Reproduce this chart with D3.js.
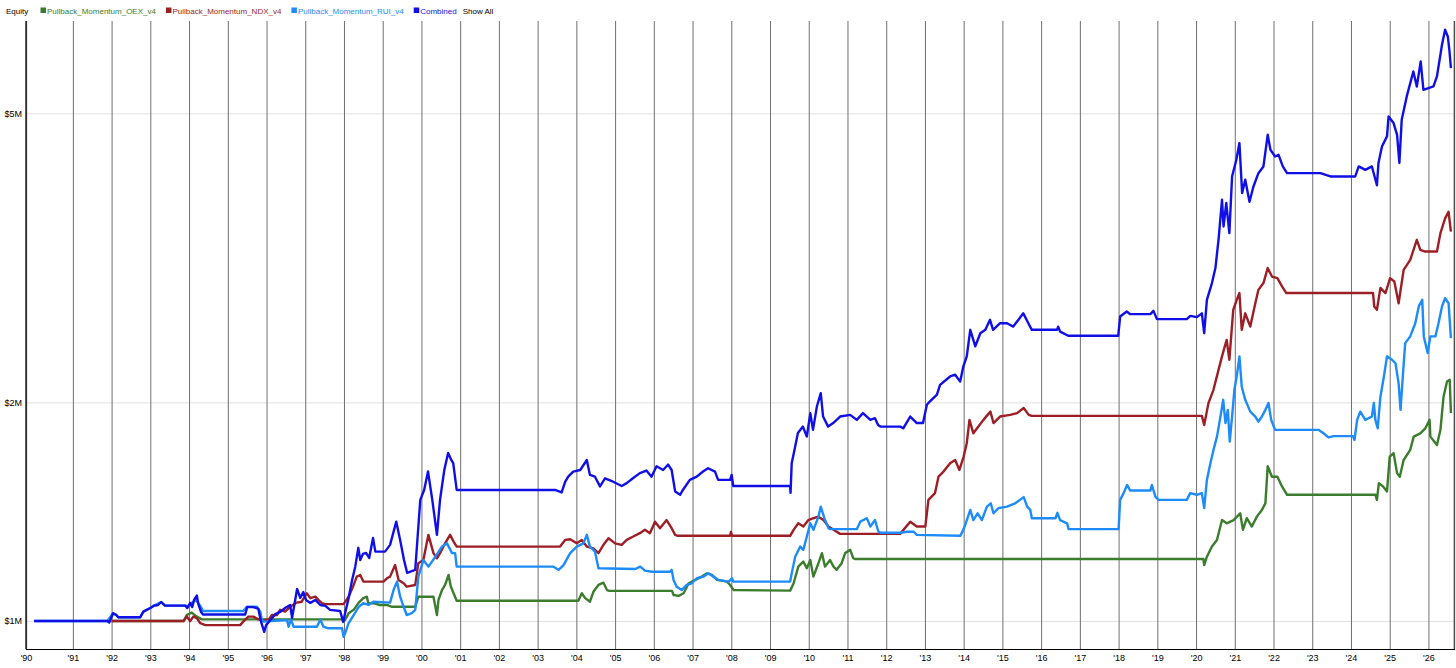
<!DOCTYPE html>
<html>
<head>
<meta charset="utf-8">
<script src="https://cdn.jsdelivr.net/npm/d3@7"></script>
<style>
  body { margin: 0; background: #fff; }
  svg { display: block; font-family: "Liberation Sans", Arial, sans-serif; }
</style>
</head>
<body>
<svg id="chart" width="1456" height="668"></svg>
<script>
/* data: [year, equity in $M] */
var oex = [
  [1992.0,1.0],[1993.86,1.0],[1993.94,1.019],[1994.07,1.027],[1994.2,1.014],[1994.33,1.005],
  [1997.98,1.005],[1998.03,1.003],[1998.12,1.025],[1998.25,1.036],[1998.38,1.06],[1998.5,1.075],
  [1998.59,1.08],[1998.63,1.058],[1998.76,1.058],[1998.93,1.052],[1999.11,1.052],[1999.24,1.046],
  [1999.84,1.046],[1999.92,1.08],[2000.31,1.08],[2000.36,1.046],[2000.4,1.019],[2000.44,1.069],
  [2000.53,1.103],[2000.61,1.121],[2000.7,1.157],[2000.76,1.115],[2000.83,1.092],[2000.91,1.066],
  [2004.05,1.066],[2004.14,1.092],[2004.23,1.075],[2004.35,1.063],[2004.44,1.097],[2004.57,1.121],
  [2004.7,1.129],[2004.79,1.103],[2004.85,1.1],[2006.47,1.1],[2006.51,1.086],[2006.64,1.083],
  [2006.77,1.092],[2006.9,1.127],[2007.07,1.139],[2007.24,1.151],[2007.37,1.163],[2007.5,1.157],
  [2007.63,1.139],[2007.89,1.133],[2007.97,1.121],[2008.06,1.103],[2009.52,1.101],[2009.61,1.127],
  [2009.73,1.188],[2009.86,1.207],[2009.95,1.182],[2010.04,1.213],[2010.12,1.151],[2010.25,1.201],
  [2010.34,1.24],[2010.42,1.188],[2010.55,1.213],[2010.64,1.188],[2010.72,1.176],[2010.85,1.201],
  [2010.94,1.24],[2011.07,1.253],[2011.15,1.22],[2011.2,1.217],[2020.19,1.217],[2020.21,1.194],
  [2020.28,1.226],[2020.41,1.266],[2020.54,1.293],[2020.67,1.377],[2020.79,1.363],[2020.97,1.377],
  [2021.14,1.407],[2021.21,1.335],[2021.31,1.385],[2021.44,1.349],[2021.57,1.392],[2021.7,1.422],
  [2021.79,1.452],[2021.85,1.633],[2021.96,1.58],[2022.1,1.58],[2022.22,1.532],[2022.35,1.492],
  [2024.63,1.492],[2024.67,1.468],[2024.72,1.548],[2024.83,1.532],[2024.93,1.508],[2025.0,1.684],
  [2025.1,1.702],[2025.19,1.598],[2025.26,1.58],[2025.36,1.666],[2025.53,1.72],[2025.62,1.794],
  [2025.79,1.813],[2025.92,1.842],[2026.03,1.892],[2026.05,1.794],[2026.22,1.747],[2026.31,1.833],
  [2026.39,2.036],[2026.48,2.136],[2026.55,2.148],[2026.58,1.933]
];

var ndx = [
  [1992.0,1.0],[1993.86,1.0],[1993.94,1.014],[1994.03,1.0],[1994.11,1.014],[1994.2,1.009],
  [1994.29,0.993],[1994.42,0.987],[1995.32,0.987],[1995.4,0.998],[1995.53,1.014],[1995.66,1.014],
  [1995.79,1.005],[1995.88,1.003],[1996.05,1.003],[1996.14,1.019],[1996.27,1.019],[1996.35,1.036],
  [1996.48,1.03],[1996.61,1.046],[1996.78,1.06],[1996.91,1.063],[1997.04,1.092],[1997.13,1.075],
  [1997.26,1.08],[1997.34,1.069],[1997.43,1.058],[1997.51,1.055],[1997.99,1.055],[1998.12,1.08],
  [1998.25,1.121],[1998.33,1.151],[1998.42,1.157],[1998.5,1.133],[1999.02,1.133],[1999.11,1.145],
  [1999.19,1.151],[1999.32,1.194],[1999.41,1.139],[1999.54,1.127],[1999.62,1.115],[1999.84,1.121],
  [1999.92,1.201],[2000.05,1.213],[2000.18,1.314],[2000.31,1.24],[2000.4,1.22],[2000.48,1.24],
  [2000.61,1.279],[2000.74,1.314],[2000.83,1.286],[2000.91,1.266],[2003.58,1.266],[2003.71,1.293],
  [2003.84,1.296],[2004.01,1.279],[2004.14,1.293],[2004.27,1.266],[2004.44,1.259],[2004.57,1.24],
  [2004.7,1.273],[2004.83,1.3],[2005.0,1.279],[2005.17,1.273],[2005.3,1.293],[2005.47,1.307],
  [2005.64,1.321],[2005.77,1.335],[2005.9,1.321],[2006.03,1.37],[2006.16,1.342],[2006.33,1.377],
  [2006.46,1.342],[2006.55,1.314],[2006.62,1.31],[2007.97,1.31],[2007.99,1.326],[2008.02,1.31],
  [2009.52,1.31],[2009.61,1.335],[2009.73,1.363],[2009.86,1.349],[2009.99,1.377],[2010.12,1.385],
  [2010.25,1.392],[2010.38,1.377],[2010.51,1.349],[2010.64,1.335],[2010.81,1.318],[2012.36,1.318],
  [2012.62,1.37],[2012.79,1.349],[2013.01,1.349],[2013.09,1.468],[2013.26,1.5],[2013.35,1.58],
  [2013.48,1.606],[2013.65,1.649],[2013.78,1.666],[2013.89,1.614],[2014.0,1.684],[2014.08,1.757],
  [2014.15,1.892],[2014.25,1.813],[2014.38,1.852],[2014.51,1.892],[2014.69,1.942],[2014.77,1.873],
  [2014.94,1.912],[2015.2,1.922],[2015.38,1.933],[2015.55,1.964],[2015.68,1.922],[2015.76,1.916],
  [2020.15,1.916],[2020.21,1.861],[2020.32,1.995],[2020.45,2.081],[2020.58,2.217],[2020.67,2.314],
  [2020.79,2.438],[2020.86,2.289],[2020.92,2.517],[2020.96,2.682],[2021.05,2.768],[2021.12,2.828],
  [2021.18,2.517],[2021.27,2.652],[2021.4,2.543],[2021.53,2.738],[2021.61,2.857],[2021.74,2.919],
  [2021.85,3.061],[2021.96,2.98],[2022.1,2.965],[2022.22,2.888],[2022.33,2.828],[2024.57,2.828],
  [2024.6,2.711],[2024.67,2.682],[2024.76,2.875],[2024.89,2.828],[2025.01,2.965],[2025.12,2.934],
  [2025.23,2.738],[2025.36,3.044],[2025.53,3.142],[2025.7,3.348],[2025.79,3.243],[2025.92,3.226],
  [2026.22,3.226],[2026.31,3.42],[2026.43,3.583],[2026.52,3.659],[2026.58,3.437]
];

var rui = [
  [1990.0,1.0],[1991.89,1.0],[1992.04,1.025],[1992.12,1.019],[1992.17,1.012],[1992.74,1.012],
  [1992.82,1.03],[1993.0,1.042],[1993.08,1.049],[1993.28,1.062],[1993.38,1.05],[1993.9,1.05],
  [1993.98,1.046],[1994.03,1.055],[1994.18,1.069],[1994.29,1.049],[1994.36,1.032],[1995.4,1.032],
  [1995.49,1.046],[1995.75,1.046],[1995.84,1.03],[1995.88,1.003],[1995.92,0.998],[1996.53,1.003],
  [1996.57,0.982],[1996.63,1.005],[1996.7,0.982],[1997.3,0.982],[1997.39,1.005],[1997.47,0.982],
  [1997.6,0.977],[1997.95,0.977],[1997.99,0.951],[1998.03,0.962],[1998.12,0.993],[1998.25,1.019],
  [1998.38,1.046],[1998.5,1.058],[1998.63,1.052],[1998.76,1.063],[1999.19,1.06],[1999.28,1.103],
  [1999.37,1.133],[1999.45,1.08],[1999.54,1.046],[1999.62,1.019],[1999.75,1.025],[1999.84,1.036],
  [1999.92,1.151],[2000.05,1.213],[2000.18,1.188],[2000.36,1.226],[2000.53,1.266],[2000.66,1.279],
  [2000.79,1.24],[2000.87,1.24],[2000.91,1.188],[2003.41,1.188],[2003.54,1.176],[2003.67,1.194],
  [2003.84,1.24],[2004.01,1.266],[2004.18,1.279],[2004.27,1.314],[2004.35,1.266],[2004.48,1.246],
  [2004.57,1.182],[2005.52,1.179],[2005.65,1.188],[2005.77,1.173],[2005.95,1.169],[2006.42,1.169],
  [2006.46,1.176],[2006.51,1.139],[2006.59,1.115],[2006.72,1.103],[2006.85,1.121],[2006.98,1.127],
  [2007.11,1.145],[2007.28,1.151],[2007.41,1.163],[2007.54,1.151],[2007.67,1.139],[2007.93,1.133],
  [2008.02,1.145],[2008.05,1.133],[2009.52,1.133],[2009.56,1.163],[2009.65,1.226],[2009.78,1.266],
  [2009.86,1.253],[2009.95,1.307],[2010.04,1.363],[2010.12,1.335],[2010.25,1.392],[2010.31,1.437],
  [2010.42,1.377],[2010.51,1.342],[2010.55,1.338],[2011.24,1.338],[2011.33,1.37],[2011.5,1.385],
  [2011.59,1.349],[2011.71,1.377],[2011.8,1.327],[2011.85,1.323],[2012.36,1.323],[2012.54,1.327],
  [2012.71,1.327],[2012.79,1.314],[2013.91,1.31],[2013.95,1.321],[2014.04,1.356],[2014.17,1.422],
  [2014.25,1.377],[2014.36,1.407],[2014.47,1.377],[2014.6,1.437],[2014.7,1.452],[2014.77,1.407],
  [2014.9,1.43],[2015.12,1.437],[2015.33,1.452],[2015.55,1.481],[2015.64,1.437],[2015.72,1.422],
  [2015.76,1.385],[2016.37,1.385],[2016.42,1.409],[2016.49,1.377],[2016.67,1.363],[2016.71,1.338],
  [2018.0,1.338],[2018.04,1.468],[2018.13,1.5],[2018.22,1.539],[2018.3,1.512],[2018.82,1.512],
  [2018.86,1.539],[2018.95,1.483],[2019.03,1.468],[2019.76,1.468],[2019.85,1.5],[2020.02,1.492],
  [2020.15,1.5],[2020.21,1.43],[2020.28,1.564],[2020.37,1.649],[2020.45,1.72],[2020.54,1.794],
  [2020.63,1.912],[2020.7,2.016],[2020.76,1.873],[2020.82,1.953],[2020.87,1.766],[2020.93,1.912],
  [2020.99,2.081],[2021.05,2.171],[2021.12,2.314],[2021.18,2.101],[2021.27,2.016],[2021.4,1.942],
  [2021.53,1.912],[2021.61,1.881],[2021.7,1.912],[2021.79,1.953],[2021.87,1.996],[2021.94,1.892],
  [2022.04,1.833],[2023.16,1.833],[2023.29,1.813],[2023.42,1.79],[2023.55,1.797],[2024.05,1.797],
  [2024.09,1.775],[2024.16,1.892],[2024.24,1.942],[2024.37,1.892],[2024.54,1.912],[2024.59,1.996],
  [2024.63,1.892],[2024.69,1.842],[2024.76,2.036],[2024.85,2.171],[2024.93,2.314],[2025.06,2.289],
  [2025.15,2.264],[2025.23,2.124],[2025.28,1.953],[2025.35,2.217],[2025.4,2.413],[2025.53,2.465],
  [2025.66,2.57],[2025.75,2.711],[2025.84,2.768],[2025.88,2.465],[2025.98,2.338],[2026.05,2.465],
  [2026.18,2.465],[2026.26,2.57],[2026.35,2.711],[2026.43,2.782],[2026.52,2.738],[2026.58,2.452]
];

var combined = [
  [1990.0,1.0],[1991.89,1.0],[1991.94,0.995],[1992.04,1.025],[1992.12,1.019],[1992.17,1.012],
  [1992.74,1.012],[1992.82,1.03],[1993.0,1.042],[1993.08,1.049],[1993.2,1.052],[1993.28,1.062],
  [1993.38,1.05],[1993.9,1.05],[1993.95,1.042],[1994.03,1.059],[1994.08,1.045],[1994.13,1.069],
  [1994.2,1.084],[1994.24,1.055],[1994.31,1.029],[1994.36,1.021],[1995.45,1.021],[1995.5,1.045],
  [1995.66,1.045],[1995.79,1.039],[1995.86,0.997],[1995.94,0.966],[1995.99,0.987],[1996.1,1.003],
  [1996.23,1.022],[1996.35,1.029],[1996.48,1.042],[1996.61,1.052],[1996.66,1.01],[1996.74,1.069],
  [1996.79,1.107],[1996.87,1.076],[1996.95,1.096],[1997.02,1.069],[1997.13,1.059],[1997.26,1.069],
  [1997.39,1.052],[1997.52,1.049],[1997.64,1.036],[1997.9,1.032],[1997.98,0.997],[1998.03,1.026],
  [1998.11,1.069],[1998.21,1.139],[1998.29,1.187],[1998.37,1.261],[1998.42,1.213],[1998.49,1.237],
  [1998.57,1.241],[1998.65,1.221],[1998.75,1.301],[1998.81,1.246],[1999.06,1.246],[1999.19,1.273],
  [1999.35,1.37],[1999.45,1.293],[1999.55,1.213],[1999.63,1.165],[1999.84,1.176],[1999.97,1.468],
  [2000.07,1.515],[2000.17,1.606],[2000.28,1.468],[2000.4,1.314],[2000.48,1.468],[2000.59,1.614],
  [2000.69,1.704],[2000.77,1.666],[2000.82,1.65],[2000.87,1.574],[2000.91,1.515],[2003.45,1.515],
  [2003.62,1.503],[2003.71,1.554],[2003.79,1.58],[2003.92,1.606],[2004.1,1.614],[2004.27,1.666],
  [2004.35,1.589],[2004.48,1.58],[2004.61,1.532],[2004.74,1.572],[2004.95,1.555],[2005.17,1.534],
  [2005.3,1.548],[2005.46,1.572],[2005.64,1.598],[2005.81,1.611],[2005.94,1.58],[2006.07,1.633],
  [2006.24,1.614],[2006.37,1.642],[2006.46,1.614],[2006.55,1.508],[2006.68,1.492],[2006.75,1.515],
  [2006.93,1.564],[2007.11,1.58],[2007.27,1.606],[2007.4,1.623],[2007.58,1.606],[2007.66,1.564],
  [2007.97,1.564],[2008.01,1.589],[2008.05,1.534],[2009.52,1.534],[2009.53,1.501],[2009.56,1.649],
  [2009.65,1.739],[2009.72,1.815],[2009.85,1.852],[2009.95,1.794],[2010.04,1.933],[2010.11,1.833],
  [2010.21,1.974],[2010.31,2.059],[2010.37,1.912],[2010.5,1.852],[2010.63,1.873],[2010.81,1.912],
  [2011.07,1.922],[2011.24,1.892],[2011.4,1.933],[2011.59,1.892],[2011.71,1.902],[2011.79,1.861],
  [2011.85,1.852],[2012.36,1.852],[2012.44,1.842],[2012.62,1.912],[2012.79,1.873],[2012.95,1.873],
  [2013.05,1.985],[2013.09,1.996],[2013.31,2.049],[2013.39,2.114],[2013.65,2.171],[2013.78,2.183],
  [2013.91,2.136],[2013.99,2.24],[2014.08,2.314],[2014.17,2.517],[2014.3,2.389],[2014.43,2.49],
  [2014.56,2.517],[2014.68,2.598],[2014.76,2.517],[2014.94,2.57],[2015.12,2.57],[2015.28,2.543],
  [2015.54,2.652],[2015.67,2.57],[2015.76,2.517],[2016.41,2.517],[2016.44,2.542],[2016.49,2.503],
  [2016.7,2.47],[2017.99,2.47],[2018.04,2.625],[2018.21,2.667],[2018.3,2.645],[2018.82,2.645],
  [2018.9,2.673],[2018.99,2.604],[2019.76,2.604],[2019.85,2.631],[2020.02,2.62],[2020.15,2.652],
  [2020.21,2.49],[2020.28,2.768],[2020.41,2.919],[2020.5,3.061],[2020.58,3.348],[2020.67,3.801],
  [2020.71,3.493],[2020.78,3.762],[2020.86,3.42],[2020.93,4.093],[2021.04,4.315],[2021.12,4.55],
  [2021.19,3.883],[2021.27,4.05],[2021.38,3.778],[2021.48,3.962],[2021.61,4.136],[2021.74,4.225],
  [2021.85,4.671],[2021.92,4.454],[2022.04,4.36],[2022.13,4.383],[2022.24,4.225],[2022.35,4.136],
  [2023.21,4.136],[2023.47,4.093],[2024.11,4.093],[2024.2,4.225],[2024.37,4.18],[2024.54,4.225],
  [2024.67,3.98],[2024.71,4.272],[2024.8,4.501],[2024.93,4.647],[2024.97,4.95],[2025.1,4.848],
  [2025.19,4.671],[2025.25,4.272],[2025.31,4.898],[2025.44,5.275],[2025.61,5.71],[2025.7,5.444],
  [2025.8,5.894],[2025.87,5.387],[2026.0,5.416],[2026.13,5.444],[2026.22,5.621],[2026.35,6.213],
  [2026.43,6.517],[2026.5,6.38],[2026.54,6.116],[2026.58,5.771]
];

var seriesNames = ["Pullback_Momentum_OEX_v4", "Pullback_Momentum_NDX_v4", "Pullback_Momentum_RUI_v4", "Combined"];
var seriesColors = ["#3b7d2d", "#9c1f26", "#1d8cf8", "#1010e6"];
var seriesData = [oex, ndx, rui, combined];
var yTicks = [1, 2, 5];
var xYears = d3.range(1991, 2027);

// plot box (note: "top" is reserved on window, so use a prefix)
var pLeft = 26, pRight = 1454, pTop = 21, pBottom = 649;

var svg = d3.select("#chart");

var x = d3.scaleLinear().domain([1989.79, 2026.66]).range([pLeft, pRight]);
var y = d3.scaleLog().domain([0.915, 6.7]).range([pBottom, pTop]);

// horizontal grid
svg.append("g")
  .attr("transform", "translate(" + pLeft + ",0)")
  .call(d3.axisLeft(y).tickValues(yTicks).tickSize(-(pRight - pLeft)).tickFormat(""))
  .call(g => g.select(".domain").remove())
  .call(g => g.selectAll("line").attr("stroke", "#e2e2e2").attr("stroke-width", 1));

// vertical grid + year labels
var xTickVals = [x.domain()[0]].concat(xYears);
svg.append("g")
  .attr("transform", "translate(0," + pBottom + ")")
  .call(d3.axisBottom(x).tickValues(xTickVals).tickSize(-(pBottom - pTop)).tickPadding(6)
    .tickFormat(d => "'" + String(Math.round(d)).slice(2)))
  .call(g => g.select(".domain").attr("stroke", "#000").attr("stroke-width", 1.2))
  .call(g => g.selectAll("line").attr("stroke", "#707070").attr("stroke-width", 1))
  .call(g => g.selectAll("text").attr("fill", "#000").attr("font-size", "9px")
    .attr("font-family", "Liberation Sans, Arial, sans-serif"));

// right border
svg.append("line")
  .attr("x1", pRight).attr("x2", pRight).attr("y1", pTop).attr("y2", pBottom)
  .attr("stroke", "#9a9a9a");

// series lines
var line = d3.line().x(d => x(d[0])).y(d => y(d[1]));
svg.append("g").selectAll("path")
  .data(seriesData)
  .enter()
  .append("path")
  .attr("d", line)
  .attr("fill", "none")
  .attr("stroke", (d, i) => seriesColors[i])
  .attr("stroke-width", 2.4)
  .attr("stroke-linejoin", "round");

// left axis
svg.append("g")
  .attr("transform", "translate(" + pLeft + ",0)")
  .call(d3.axisLeft(y).tickValues(yTicks).tickSize(0).tickPadding(4).tickFormat(d => "$" + d + "M"))
  .call(g => g.select(".domain").attr("stroke", "#000").attr("stroke-width", 1.2)
    .attr("d", "M0," + pTop + "V" + pBottom))
  .call(g => g.selectAll("text").attr("fill", "#000").attr("font-size", "9px")
    .attr("font-family", "Liberation Sans, Arial, sans-serif"));

// legend
var legend = svg.append("g").attr("font-size", "8px");
legend.append("text").attr("x", 6).attr("y", 13.5).attr("fill", "#000").text("Equity");
var lx = 40.5;
seriesNames.forEach(function (name, i) {
  legend.append("rect")
    .attr("x", lx).attr("y", 7.5).attr("width", 5.5).attr("height", 5.5)
    .attr("fill", seriesColors[i]);
  var t = legend.append("text")
    .attr("x", lx + 6.5).attr("y", 13.5)
    .attr("fill", seriesColors[i])
    .text(name);
  lx += 6.5 + t.node().getComputedTextLength() + 10;
});
legend.append("text").attr("x", lx - 4).attr("y", 13.5).attr("fill", "#000").text("Show All");
</script>
</body>
</html>
